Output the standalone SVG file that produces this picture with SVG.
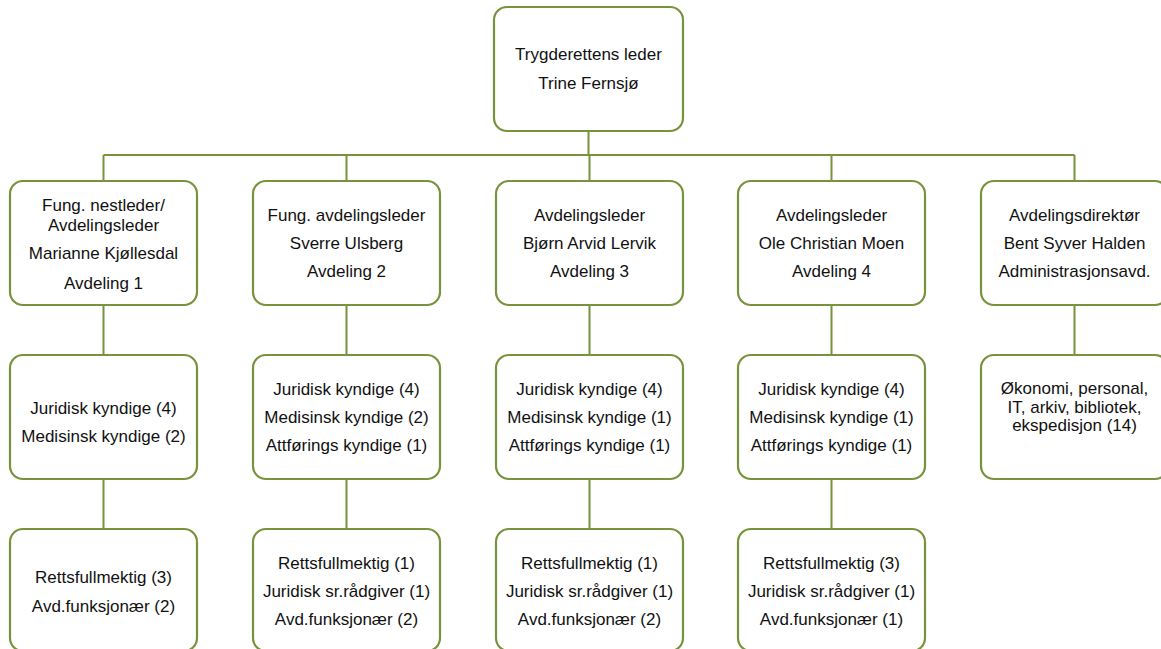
<svg xmlns="http://www.w3.org/2000/svg" width="1161" height="649" viewBox="0 0 1161 649">
<style>
.box{fill:#fff;stroke:#77933C;stroke-width:2.2}
.con{stroke:#77933C;stroke-width:2;fill:none}
text{font-family:"Liberation Sans",Arial,sans-serif;font-size:17px;fill:#111;text-anchor:middle}
</style>
<rect width="1161" height="649" fill="#fff"/>
<g id="connectors">
<path class="con" d="M588.5 131V155M103.5 155H1074.5M103.5 155V181M346.5 155V181M589.5 155V181M831.5 155V181M1074.5 155V181"/>
<path class="con" d="M103.5 305V355M346.5 305V355M589.5 305V355M831.5 305V355M1074.5 305V355"/>
<path class="con" d="M103.5 479V529M346.5 479V529M589.5 479V529M831.5 479V529"/>
</g>
<g id="leder"><rect class="box" x="494" y="7" width="189" height="124" rx="13"/>
<text x="588.5" y="60">Trygderettens leder</text><text x="588.5" y="89">Trine Fernsjø</text></g>
<g id="avd1"><rect class="box" x="10" y="181" width="187" height="124" rx="13"/>
<text x="103.5" y="211">Fung. nestleder/</text><text x="103.5" y="231">Avdelingsleder</text><text x="103.5" y="259">Marianne Kjøllesdal</text><text x="103.5" y="289">Avdeling 1</text></g>
<g id="avd2"><rect class="box" x="253" y="181" width="187" height="124" rx="13"/>
<text x="346.5" y="221">Fung. avdelingsleder</text><text x="346.5" y="249">Sverre Ulsberg</text><text x="346.5" y="277">Avdeling 2</text></g>
<g id="avd3"><rect class="box" x="496" y="181" width="187" height="124" rx="13"/>
<text x="589.5" y="221">Avdelingsleder</text><text x="589.5" y="249">Bjørn Arvid Lervik</text><text x="589.5" y="277">Avdeling 3</text></g>
<g id="avd4"><rect class="box" x="738" y="181" width="187" height="124" rx="13"/>
<text x="831.5" y="221">Avdelingsleder</text><text x="831.5" y="249">Ole Christian Moen</text><text x="831.5" y="277">Avdeling 4</text></g>
<g id="adm"><rect class="box" x="981" y="181" width="187" height="124" rx="13"/>
<text x="1074.5" y="221">Avdelingsdirektør</text><text x="1074.5" y="249">Bent Syver Halden</text><text x="1074.5" y="277">Administrasjonsavd.</text></g>
<g id="avd1-ansatte"><rect class="box" x="10" y="355" width="187" height="124" rx="13"/>
<text x="103.5" y="414">Juridisk kyndige (4)</text><text x="103.5" y="442">Medisinsk kyndige (2)</text></g>
<g id="avd2-ansatte"><rect class="box" x="253" y="355" width="187" height="124" rx="13"/>
<text x="346.5" y="395">Juridisk kyndige (4)</text><text x="346.5" y="423">Medisinsk kyndige (2)</text><text x="346.5" y="451">Attførings kyndige (1)</text></g>
<g id="avd3-ansatte"><rect class="box" x="496" y="355" width="187" height="124" rx="13"/>
<text x="589.5" y="395">Juridisk kyndige (4)</text><text x="589.5" y="423">Medisinsk kyndige (1)</text><text x="589.5" y="451">Attførings kyndige (1)</text></g>
<g id="avd4-ansatte"><rect class="box" x="738" y="355" width="187" height="124" rx="13"/>
<text x="831.5" y="395">Juridisk kyndige (4)</text><text x="831.5" y="423">Medisinsk kyndige (1)</text><text x="831.5" y="451">Attførings kyndige (1)</text></g>
<g id="adm-ansatte"><rect class="box" x="981" y="355" width="187" height="124" rx="13"/>
<text x="1074.5" y="394">Økonomi, personal,</text><text x="1074.5" y="413">IT, arkiv, bibliotek,</text><text x="1074.5" y="431">ekspedisjon (14)</text></g>
<g id="avd1-stab"><rect class="box" x="10" y="529" width="187" height="122" rx="13"/>
<text x="103.5" y="583">Rettsfullmektig (3)</text><text x="103.5" y="612">Avd.funksjonær (2)</text></g>
<g id="avd2-stab"><rect class="box" x="253" y="529" width="187" height="122" rx="13"/>
<text x="346.5" y="569">Rettsfullmektig (1)</text><text x="346.5" y="597">Juridisk sr.rådgiver (1)</text><text x="346.5" y="625">Avd.funksjonær (2)</text></g>
<g id="avd3-stab"><rect class="box" x="496" y="529" width="187" height="122" rx="13"/>
<text x="589.5" y="569">Rettsfullmektig (1)</text><text x="589.5" y="597">Juridisk sr.rådgiver (1)</text><text x="589.5" y="625">Avd.funksjonær (2)</text></g>
<g id="avd4-stab"><rect class="box" x="738" y="529" width="187" height="122" rx="13"/>
<text x="831.5" y="569">Rettsfullmektig (3)</text><text x="831.5" y="597">Juridisk sr.rådgiver (1)</text><text x="831.5" y="625">Avd.funksjonær (1)</text></g>
</svg>
